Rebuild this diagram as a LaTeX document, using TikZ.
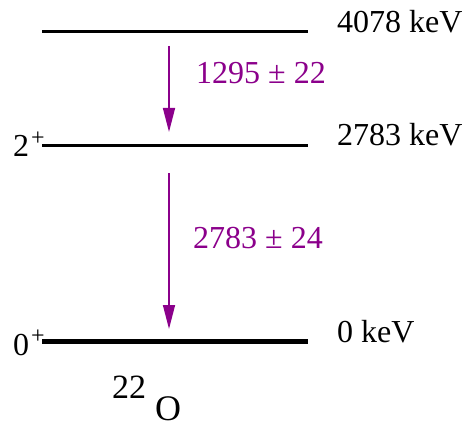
\documentclass[tikz,border=0pt]{standalone}
\usepackage{fontspec}
\setmainfont{Liberation Serif}
\usetikzlibrary{arrows.meta}
\definecolor{trans}{HTML}{8B008B}
\begin{document}
\begin{tikzpicture}[x=1pt,y=-1pt,
  lvl/.style={line width=3pt},
  gnd/.style={line width=5pt},
  lbl/.style={inner sep=0pt,anchor=base west,font=\fontsize{32}{32}\selectfont},
  sup/.style={inner sep=0pt,anchor=base west,font=\fontsize{24}{24}\selectfont},
  trn/.style={draw=trans,line width=1.5pt,-{Triangle[length=24pt,width=12pt]}},
  tlbl/.style={lbl,text=trans}]
\useasboundingbox (0,0) rectangle (469,428);
% levels
\coordinate (l4a) at (42,32);  \coordinate (l4b) at (308,32);
\coordinate (l2a) at (42,145); \coordinate (l2b) at (308,145);
\coordinate (l0a) at (42,341.5); \coordinate (l0b) at (308,341.5);
\draw[lvl] (l4a) -- (l4b);
\draw[lvl] (l2a) -- (l2b);
\draw[gnd] (l0a) -- (l0b);
% energies
\node[lbl] (e4) at (337,33) {4078 keV};
\node[lbl] (e2) at (337,146) {2783 keV};
\node[lbl] (e0) at (337,342) {0 keV};
% spins
\node[lbl] (s2) at (13,157) {2};
\node[sup] (s2p) at (31,145) {+};
\node[lbl] (s0) at (13,355) {0};
\node[sup] (s0p) at (31,343) {+};
% transitions
\coordinate (t1s) at (169,46);  \coordinate (t1e) at (169,132);
\coordinate (t2s) at (169,173); \coordinate (t2e) at (169,329);
\draw[trn] (t1s) -- (t1e);
\draw[trn] (t2s) -- (t2e);
\node[tlbl] (g1) at (196,84) {1295 ± 22};
\node[tlbl] (g2) at (193,248) {2783 ± 24};
% nucleus
\node[lbl,font=\fontsize{34}{34}\selectfont] (mass) at (112,398) {22};
\node[lbl,font=\fontsize{36}{36}\selectfont,text depth=0pt] (el) at (155,420) {O};
\end{tikzpicture}
\end{document}
